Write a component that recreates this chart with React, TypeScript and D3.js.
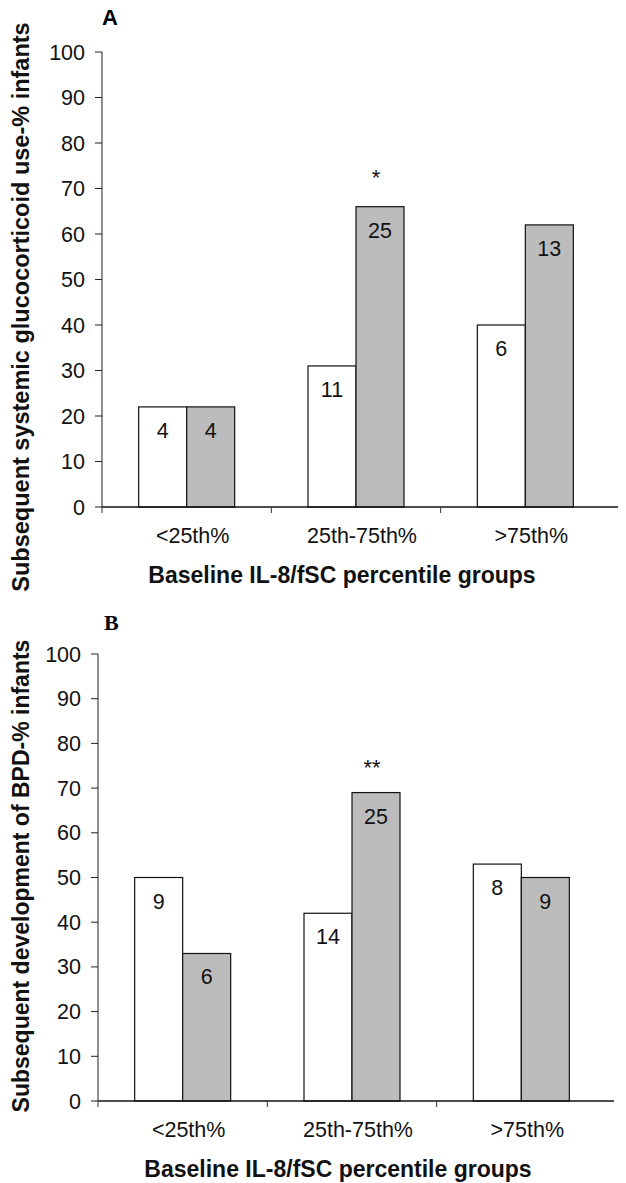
import * as d3 from "d3";
import React from "react";

// data
const groups = ["<25th%", "25th-75th%", ">75th%"];
const series = ["low", "high"];
const steroidPct = [[22, 22], [31, 66], [40, 62]];
const steroidN = [[4, 4], [11, 25], [6, 13]];
const bpdPct = [[50, 33], [42, 69], [53, 50]];
const bpdN = [[9, 6], [14, 25], [8, 9]];
const yTicks = [0, 10, 20, 30, 40, 50, 60, 70, 80, 90, 100];

const SANS = "'Liberation Sans', Arial, Helvetica, sans-serif";
const SERIF = "'Liberation Serif', 'Times New Roman', serif";
const GREY = "#bcbcbc";

function Panel({ pct, counts, letter, letterSerif, yTitle, yTitleSize, yTitleY, xLeft, xRight, yTop, yBottom, starIdx, star, starGap }) {
  const x = d3.scaleBand().domain(groups).range([xLeft, xRight]);
  const y = d3.scaleLinear().domain([0, 100]).range([yBottom, yTop]);
  const barW = 48;

  return (
    <g>
      <text x={letterSerif ? xLeft + 6 : xLeft} y={letterSerif ? yTop - 24 : yTop - 27}
        fontFamily={letterSerif ? SERIF : SANS} fontWeight="bold" fontSize={22}>{letter}</text>

      {/* y axis */}
      <line x1={xLeft} x2={xLeft} y1={y(0)} y2={y(100)} stroke="#444" strokeWidth={1.2} />
      {yTicks.map(t => (
        <g key={t}>
          <line x1={xLeft - 7} x2={xLeft} y1={y(t)} y2={y(t)} stroke="#222" strokeWidth={1} />
          <text x={xLeft - 17} y={y(t) + 7.5} textAnchor="end" fontFamily={SANS} fontSize={21.5} fill="#111">{t}</text>
        </g>
      ))}
      <text transform={`translate(29, ${yTitleY}) rotate(-90)`} textAnchor="middle" fontFamily={SANS}
        fontWeight="bold" fontSize={yTitleSize} fill="#111">{yTitle}</text>

      {/* bars */}
      {groups.map((g, i) => {
        const cx = x(g) + x.bandwidth() / 2;
        const sub = d3.scaleBand().domain(series).range([cx - barW, cx + barW]);
        return (
          <g key={g}>
            {series.map((s, j) => (
              <g key={s}>
                <rect x={sub(s)} y={y(pct[i][j])} width={sub.bandwidth()} height={y(0) - y(pct[i][j])}
                  fill={j === 0 ? "#fff" : GREY} stroke="#111" strokeWidth={1.2} />
                <text x={sub(s) + sub.bandwidth() / 2} y={y(pct[i][j]) + 31} textAnchor="middle"
                  fontFamily={SANS} fontSize={21.5} fill="#111">{counts[i][j]}</text>
              </g>
            ))}
            {i === starIdx && (
              <text x={sub("high") + sub.bandwidth() / 2 - 4} y={y(pct[i][1]) - starGap} textAnchor="middle"
                fontFamily={SANS} fontSize={22} fill="#111">{star}</text>
            )}
          </g>
        );
      })}

      {/* x axis */}
      <line x1={xLeft} x2={xRight + 8} y1={y(0)} y2={y(0)} stroke="#111" strokeWidth={1.4} />
      {groups.map(g => (
        <line key={"t" + g} x1={x(g)} x2={x(g)} y1={y(0)} y2={y(0) + 6} stroke="#333" strokeWidth={1} />
      ))}
      {groups.map(g => (
        <text key={"l" + g} x={x(g) + x.bandwidth() / 2 + 6} y={y(0) + 36} textAnchor="middle"
          fontFamily={SANS} fontSize={21.5} fill="#111">{g}</text>
      ))}
      <text x={(xLeft + xRight) / 2 - 14} y={y(0) + 76} textAnchor="middle" fontFamily={SANS}
        fontWeight="bold" fontSize={23} fill="#111">Baseline IL-8/fSC percentile groups</text>
    </g>
  );
}

export default function App() {
  return (
    <svg width={626} height={1183} style={{ display: "block", position: "absolute", left: 0, top: 0 }}>
      <rect width={626} height={1183} fill="#fff" />
      <Panel pct={steroidPct} counts={steroidN} letter="A" letterSerif={false}
        yTitle="Subsequent systemic glucocorticoid use-% infants" yTitleSize={23.5} yTitleY={307}
        xLeft={102} xRight={610} yTop={52} yBottom={507} starIdx={1} star="*" starGap={22} />
      <Panel pct={bpdPct} counts={bpdN} letter="B" letterSerif={true}
        yTitle="Subsequent development of BPD-% infants" yTitleSize={23} yTitleY={876}
        xLeft={98} xRight={606} yTop={654} yBottom={1101} starIdx={1} star="**" starGap={18} />
    </svg>
  );
}
